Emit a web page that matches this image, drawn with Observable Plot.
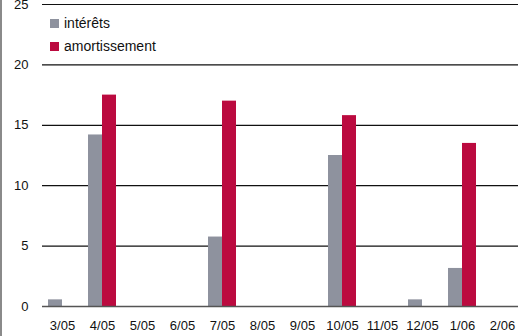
<!DOCTYPE html>
<html><head><meta charset="utf-8">
<script src="https://cdn.jsdelivr.net/npm/d3@7"></script>
<script src="https://cdn.jsdelivr.net/npm/@observablehq/plot@0.6"></script>
<style>
body{margin:0;background:#fff;}
#wrap{position:relative;width:518px;height:336px;overflow:hidden;font-family:"Liberation Sans Narrow","Arial Narrow","Liberation Sans",sans-serif;}
#border{position:absolute;left:0;top:0;width:2px;height:336px;background:#8a8a8a;}
.leg{position:absolute;left:50px;font-size:14px;color:#111;display:flex;align-items:center;}
.leg span.sw{display:inline-block;width:9px;height:9px;margin-right:5px;}
</style></head>
<body><div id="wrap"><div id="border"></div></div>
<script>
const months = ["3/05","4/05","5/05","6/05","7/05","8/05","9/05","10/05","11/05","12/05","1/06","2/06"];
const interets = [0.55,14.2,0,0,5.75,0,0,12.5,0,0.55,3.15,0];
const amortissement = [0,17.5,0,0,17.0,0,0,15.8,0,0,13.5,0];
const seriesNames = ["intérêts","amortissement"];
const seriesColors = ["#8e929e","#bb0a3f"];
const yTicks = [0,5,10,15,20,25];

const gray = months.map((m,i)=>({month:m, value:interets[i]})).filter(d=>d.value>0);
const red = months.map((m,i)=>({month:m, value:amortissement[i]})).filter(d=>d.value>0);
const font = '"Liberation Sans Narrow","Arial Narrow","Liberation Sans",sans-serif';

const wrap = document.getElementById("wrap");
const svg = Plot.plot({
  width:518, height:336,
  marginLeft:42, marginRight:0, marginTop:4, marginBottom:30,
  style:{fontFamily:font, fontSize:"13px", color:"#111", background:"transparent", overflow:"visible"},
  x:{domain:months, range:[42,522], paddingInner:0.3, paddingOuter:0.15, axis:null},
  y:{domain:[0,25], axis:null},
  marks:[
    Plot.ruleY(yTicks.filter(d=>d>0), {stroke:"#111", strokeWidth:1.2}),
    Plot.barY(gray, {x:"month", y:"value", fill:seriesColors[0], insetRight:14}),
    Plot.barY(red, {x:"month", y:"value", fill:seriesColors[1], insetLeft:14}),
    Plot.ruleY([0], {stroke:"#555", strokeWidth:1.5}),
    Plot.axisY(yTicks, {tickSize:0, tickPadding:14, fontSize:13, label:null}),
    Plot.axisX({tickSize:0, tickPadding:14, fontSize:13, label:null})
  ]
});
wrap.appendChild(svg);
seriesNames.forEach((n,i)=>{
  const d=document.createElement("div");
  d.className="leg";
  d.style.top=(15+i*23)+"px";
  d.innerHTML='<span class="sw" style="background:'+seriesColors[i]+'"></span>'+n;
  wrap.appendChild(d);
});
</script>
</body></html>
